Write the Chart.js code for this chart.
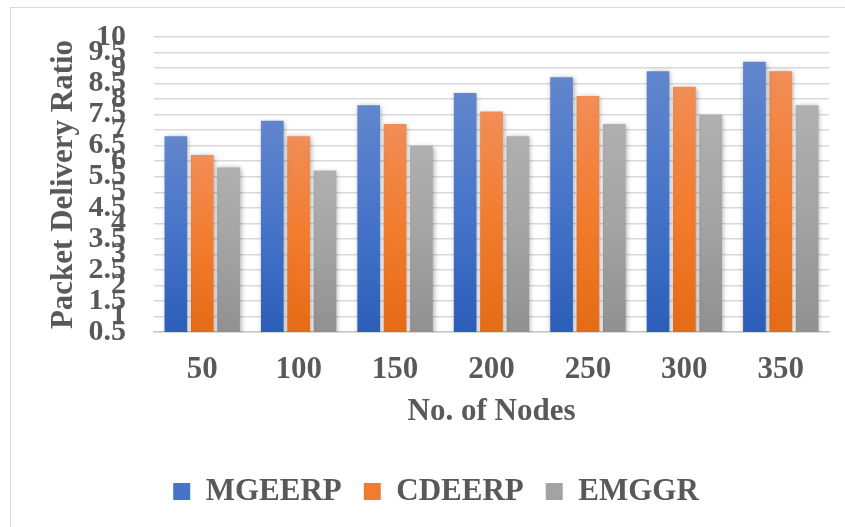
<!DOCTYPE html>
<html>
<head>
<meta charset="utf-8">
<script src="https://cdn.jsdelivr.net/npm/chart.js@4.4.0/dist/chart.umd.min.js"></script>
<style>
html, body { margin: 0; padding: 0; background: #fff; width: 845px; height: 527px; overflow: hidden; }
#frame { position: absolute; left: 10px; top: 7px; width: 835px; height: 520px; border-left: 1px solid #d9d9d9; border-top: 1px solid #d9d9d9; box-sizing: border-box; }
#myChart { position: absolute; left: 0; top: 0; }
</style>
</head>
<body>
<div id="frame"><canvas id="myChart" width="834" height="519"></canvas></div>
<script>
// data
var nodes = ['50', '100', '150', '200', '250', '300', '350'];
var mgeerp = [6.8, 7.3, 7.8, 8.2, 8.7, 8.9, 9.2];
var cdeerp = [6.2, 6.8, 7.2, 7.6, 8.1, 8.4, 8.9];
var emggr = [5.8, 5.7, 6.5, 6.8, 7.2, 7.5, 7.8];
var yMin = 0.5, yMax = 10, yStep = 0.5;

var serif = "'Liberation Serif', 'Times New Roman', serif";
var textColor = '#595959';

// top, middle, bottom colour for each series
var blue = ['#6286cd', '#4674c9', '#2c5eb9'];
var orange = ['#f18d57', '#f27c2e', '#e56b15'];
var gray = ['#b0b0b0', '#a3a3a3', '#909090'];

function barFill(cols) {
    return function (ctx) {
        var chart = ctx.chart;
        if (ctx.raw === undefined || !chart.chartArea) return cols[1];
        var top = chart.scales.y.getPixelForValue(ctx.raw);
        var g = chart.ctx.createLinearGradient(0, top, 0, chart.chartArea.bottom);
        g.addColorStop(0, cols[0]);
        g.addColorStop(0.5, cols[1]);
        g.addColorStop(1, cols[2]);
        return g;
    };
}

// soft shadow around bars
var barShadow = {
    id: 'barShadow',
    beforeDatasetsDraw: function (chart) {
        var c = chart.ctx;
        c.save();
        c.shadowColor = 'rgba(0,0,0,0.35)';
        c.shadowBlur = 5;
        c.shadowOffsetX = 1;
        c.shadowOffsetY = 1;
    },
    afterDatasetsDraw: function (chart) {
        chart.ctx.restore();
    }
};

// fixed legend height, nudged a bit right like the original
var fixLegend = {
    id: 'fixLegend',
    afterInit: function (chart) {
        var orig = chart.legend.fit;
        chart.legend.fit = function () {
            orig.call(this);
            this.height = 69;
        };
    },
    afterLayout: function (chart) {
        chart.legend.left += 11;
        chart.legend.right += 11;
    }
};

var ctx = document.getElementById('myChart');
var myChart = new Chart(ctx, {
    type: 'bar',
    data: {
        labels: nodes,
        datasets: [
            { label: 'MGEERP', data: mgeerp, backgroundColor: barFill(blue) },
            { label: 'CDEERP', data: cdeerp, backgroundColor: barFill(orange) },
            { label: 'EMGGR', data: emggr, backgroundColor: barFill(gray) }
        ]
    },
    plugins: [barShadow, fixLegend],
    options: {
        responsive: false,
        animation: false,
        devicePixelRatio: 1,
        categoryPercentage: 0.82,
        barPercentage: 0.86,
        layout: { padding: { left: 10, top: 0, right: 16, bottom: 4 } },
        plugins: {
            tooltip: { enabled: false },
            legend: {
                position: 'bottom',
                labels: {
                    boxWidth: 17,
                    boxHeight: 17,
                    padding: 22,
                    color: textColor,
                    font: { family: serif, size: 31, weight: 'bold' },
                    generateLabels: function (chart) {
                        var cols = [blue, orange, gray];
                        return chart.data.datasets.map(function (ds, i) {
                            return {
                                text: ds.label,
                                fillStyle: cols[i][1],
                                strokeStyle: 'transparent',
                                lineWidth: 0,
                                fontColor: textColor,
                                datasetIndex: i
                            };
                        });
                    }
                }
            }
        },
        scales: {
            x: {
                afterFit: function (scale) { scale.height = 122; },
                grid: { display: false, drawTicks: false },
                border: { display: true, color: '#c8c8c8', width: 1.5 },
                ticks: {
                    padding: 19,
                    color: textColor,
                    font: { family: serif, size: 31, weight: 'bold' }
                },
                title: {
                    display: true,
                    text: 'No. of Nodes',
                    color: textColor,
                    font: { family: serif, size: 31, weight: 'bold' },
                    padding: { top: 4, bottom: 23 }
                }
            },
            y: {
                min: yMin,
                max: yMax,
                afterFit: function (scale) {
                    scale.width = 133;
                    scale.paddingTop = 29;
                    scale.paddingBottom = 0;
                },
                grid: { color: '#d9d9d9', lineWidth: 1.5, drawTicks: false },
                border: { display: false },
                ticks: {
                    stepSize: yStep,
                    autoSkip: false,
                    padding: 28,
                    color: textColor,
                    font: { family: serif, size: 30, weight: 'bold' },
                    callback: function (v) { return String(v); }
                },
                title: {
                    display: true,
                    text: 'Packet Delivery Ratio',
                    color: textColor,
                    font: { family: serif, size: 31, weight: 'bold' },
                    padding: { top: 24, bottom: 6 }
                }
            }
        }
    }
});
</script>
</body>
</html>
